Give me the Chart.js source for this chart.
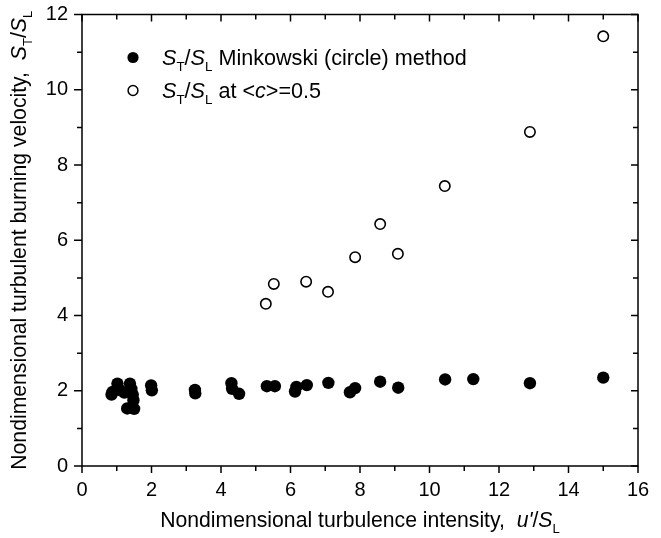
<!DOCTYPE html>
<html>
<head>
<meta charset="utf-8">
<script src="https://cdn.jsdelivr.net/npm/chart.js@4.4.0/dist/chart.umd.min.js"></script>
<style>
  html, body { margin: 0; background: #fff; }
</style>
</head>
<body>
<canvas id="chart" width="661" height="538"></canvas>
<script>
/* S_T/S_L vs u'/S_L — two series */

// Minkowski (circle) method — filled circles
const minkX = [0.85, 0.88, 1.02, 1.08, 1.22, 1.30, 1.38, 1.42, 1.46, 1.48, 1.50,
               1.99, 2.01, 3.25, 3.26, 4.30, 4.32, 4.52, 5.32, 5.55, 6.13, 6.17,
               6.47, 7.09, 7.71, 7.86, 8.58, 9.10, 10.45, 11.26, 12.89, 15.00];
const minkY = [1.90, 1.97, 2.19, 2.02, 1.95, 1.53, 2.19, 2.05, 1.90, 1.75, 1.52,
               2.14, 2.01, 2.02, 1.93, 2.20, 2.05, 1.92, 2.12, 2.12, 1.98, 2.10,
               2.15, 2.21, 1.96, 2.07, 2.24, 2.08, 2.30, 2.31, 2.20, 2.35];

// at <c>=0.5 — open circles
const halfX = [5.29, 5.52, 6.45, 7.08, 7.86, 8.58, 9.09, 10.44, 12.89, 15.00];
const halfY = [4.31, 4.84, 4.90, 4.63, 5.55, 6.43, 5.64, 7.44, 8.88, 11.42];

const X_MIN = 0, X_MAX = 16, Y_MIN = 0, Y_MAX = 12;
const xTickLabels = [0, 2, 4, 6, 8, 10, 12, 14, 16];
const yTickLabels = [0, 2, 4, 6, 8, 10, 12];

const FONT = '"Liberation Sans", Arial, Helvetica, sans-serif';
const pts = (xs, ys) => xs.map((x, i) => ({ x, y: ys[i] }));

// texte avec indices / italique
function richWidth(ctx, parts, size) {
  let w = 0;
  for (const p of parts) {
    const fs = p.sub ? size * 0.62 : size;
    ctx.font = `${p.it ? "italic " : ""}${fs}px ${FONT}`;
    w += ctx.measureText(p.t).width;
  }
  return w;
}
function drawRich(ctx, parts, x, y, size) {
  let cx = x;
  for (const p of parts) {
    const fs = p.sub ? size * 0.62 : size;
    ctx.font = `${p.it ? "italic " : ""}${fs}px ${FONT}`;
    ctx.fillText(p.t, cx, y + (p.sub ? size * 0.3 : 0));
    cx += ctx.measureText(p.t).width;
  }
}

const ST_SL = [{ t: "S", it: true }, { t: "T", sub: true }, { t: "/" }, { t: "S", it: true }, { t: "L", sub: true }];
const X_TITLE = [{ t: "Nondimensional turbulence intensity,  " }, { t: "u'", it: true }, { t: "/" }, { t: "S", it: true }, { t: "L", sub: true }];
const Y_TITLE = [{ t: "Nondimensional turbulent burning velocity,  " }, ...ST_SL];
const LEG = [
  { parts: [...ST_SL, { t: " Minkowski (circle) method" }], filled: true },
  { parts: [...ST_SL, { t: " at <" }, { t: "c", it: true }, { t: ">=0.5" }], filled: false },
];

const framePlugin = {
  id: "frame",
  afterDraw(chart) {
    const { ctx, chartArea: a, scales: { x, y } } = chart;
    ctx.save();
    ctx.strokeStyle = "#000";
    ctx.fillStyle = "#000";
    ctx.lineWidth = 1.5;
    ctx.strokeRect(a.left, a.top, a.right - a.left, a.bottom - a.top);

    ctx.beginPath();
    for (let v = X_MIN; v <= X_MAX; v++) {
      const px = x.getPixelForValue(v), len = v % 2 ? 5 : 7;
      ctx.moveTo(px, a.bottom); ctx.lineTo(px, a.bottom + len);   // dehors
      ctx.moveTo(px, a.top); ctx.lineTo(px, a.top + len);         // dedans
    }
    for (let v = Y_MIN; v <= Y_MAX; v++) {
      const py = y.getPixelForValue(v), len = v % 2 ? 5 : 8;
      ctx.moveTo(a.left, py); ctx.lineTo(a.left - len, py);
      ctx.moveTo(a.right, py); ctx.lineTo(a.right - (v % 2 ? 5 : 7), py);
    }
    ctx.stroke();

    // légende
    ctx.textBaseline = "alphabetic";
    ctx.textAlign = "left";
    LEG.forEach((l, i) => {
      const base = 65 + i * 33;
      ctx.beginPath();
      ctx.arc(133, base - 7.5, l.filled ? 5.6 : 4.9, 0, Math.PI * 2);
      if (l.filled) ctx.fill();
      else { ctx.fillStyle = "#fff"; ctx.fill(); ctx.fillStyle = "#000"; ctx.lineWidth = 1.5; ctx.stroke(); }
      drawRich(ctx, l.parts, 162, base, 21.6);
    });

    // titres des axes
    const cxm = (a.left + a.right) / 2;
    const wx = richWidth(ctx, X_TITLE, 21.2);
    drawRich(ctx, X_TITLE, cxm - wx / 2, 527, 21.2);

    const cym = (a.top + a.bottom) / 2;
    const wy = richWidth(ctx, Y_TITLE, 21.2);
    ctx.translate(26, cym);
    ctx.rotate(-Math.PI / 2);
    drawRich(ctx, Y_TITLE, -wy / 2, 0, 21.2);
    ctx.restore();
  },
};

new Chart(document.getElementById("chart"), {
  type: "scatter",
  data: {
    datasets: [
      { label: "Minkowski", data: pts(minkX, minkY), pointRadius: 6.2, pointHoverRadius: 6.2,
        backgroundColor: "#000", borderColor: "#000", borderWidth: 0 },
      { label: "c=0.5", data: pts(halfX, halfY), pointRadius: 5.2, pointHoverRadius: 5.2,
        backgroundColor: "#fff", borderColor: "#000", borderWidth: 1.6 },
    ],
  },
  options: {
    responsive: false,
    animation: false,
    devicePixelRatio: 1,
    layout: { padding: { top: 14.5, right: 23, left: 0, bottom: 0 } },
    plugins: { legend: { display: false }, tooltip: { enabled: false } },
    scales: {
      x: {
        type: "linear", min: X_MIN, max: X_MAX,
        afterFit: (s) => { s.height = 72; s.paddingLeft = 0; s.paddingRight = 0; },
        afterBuildTicks: (s) => { s.ticks = xTickLabels.map((v) => ({ value: v })); },
        ticks: { color: "#000", font: { size: 20, family: FONT }, padding: 12 },
        grid: { display: false, drawTicks: false },
        border: { display: false },
      },
      y: {
        type: "linear", min: Y_MIN, max: Y_MAX,
        afterFit: (s) => { s.width = 82; s.paddingTop = 0; s.paddingBottom = 0; },
        afterBuildTicks: (s) => { s.ticks = yTickLabels.map((v) => ({ value: v })); },
        ticks: { color: "#000", font: { size: 20, family: FONT }, padding: 14 },
        grid: { display: false, drawTicks: false },
        border: { display: false },
      },
    },
  },
  plugins: [framePlugin],
});
</script>
</body>
</html>
